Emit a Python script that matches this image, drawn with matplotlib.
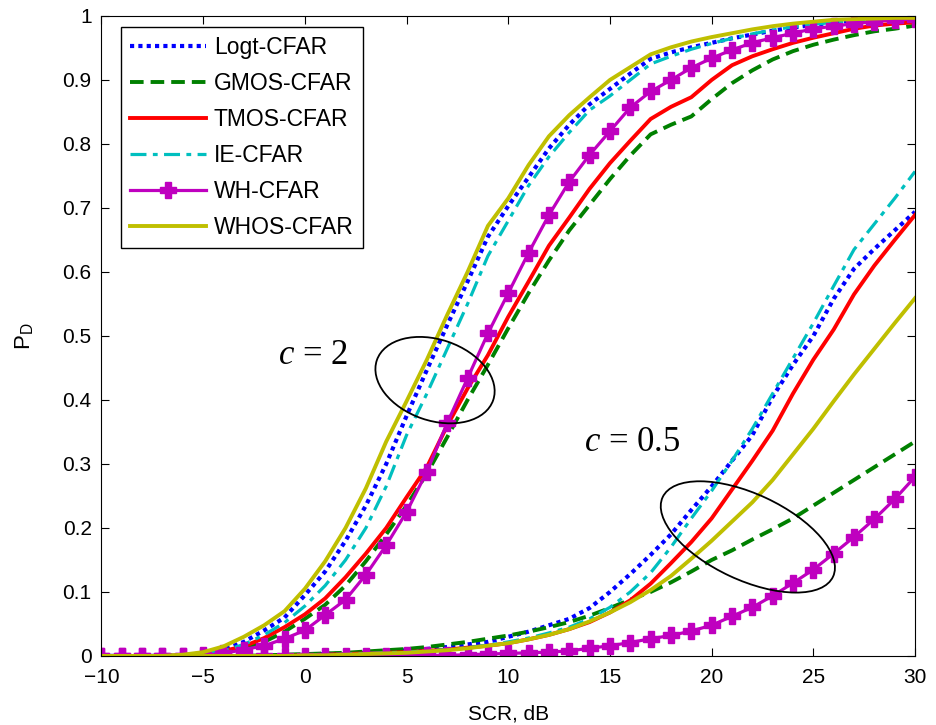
import numpy as np
import matplotlib
matplotlib.use('Agg')
import matplotlib.pyplot as plt
from matplotlib.patches import Ellipse
from matplotlib.transforms import ScaledTranslation

plt.rcParams['font.family'] = ['Liberation Sans', 'DejaVu Sans']
plt.rcParams['mathtext.fontset'] = 'custom'
plt.rcParams['mathtext.rm'] = 'Liberation Sans'
plt.rcParams['mathtext.it'] = 'Liberation Serif:italic'

scr = np.arange(-10, 31)

# c = 2
logt_2 = [0, 0, 0, 0, 0.001, 0.004, 0.01, 0.022, 0.04, 0.06, 0.095, 0.132, 0.18, 0.235, 0.3, 0.375,
          0.447, 0.517, 0.585, 0.655, 0.703, 0.748, 0.793, 0.83, 0.862, 0.886, 0.91, 0.933, 0.943,
          0.951, 0.958, 0.965, 0.971, 0.977, 0.982, 0.986, 0.99, 0.993, 0.995, 0.997, 0.998]
gmos_2 = [0, 0, 0, 0, 0.001, 0.002, 0.006, 0.012, 0.022, 0.038, 0.058, 0.08, 0.11, 0.148, 0.19, 0.235,
          0.285, 0.342, 0.4, 0.455, 0.512, 0.567, 0.618, 0.665, 0.705, 0.745, 0.782, 0.815, 0.83,
          0.843, 0.87, 0.895, 0.915, 0.932, 0.945, 0.955, 0.963, 0.97, 0.976, 0.98, 0.985]
tmos_2 = [0, 0, 0, 0, 0.001, 0.003, 0.008, 0.015, 0.028, 0.045, 0.065, 0.09, 0.123, 0.16, 0.2, 0.248,
          0.295, 0.36, 0.418, 0.47, 0.53, 0.585, 0.641, 0.685, 0.73, 0.77, 0.805, 0.839, 0.858,
          0.873, 0.9, 0.923, 0.937, 0.948, 0.958, 0.966, 0.973, 0.98, 0.985, 0.988, 0.99]
ie_2 = [0, 0, 0, 0, 0.001, 0.003, 0.008, 0.018, 0.033, 0.052, 0.078, 0.11, 0.15, 0.2, 0.265, 0.345,
        0.41, 0.48, 0.55, 0.625, 0.68, 0.735, 0.78, 0.818, 0.853, 0.875, 0.9, 0.925, 0.937,
        0.948, 0.957, 0.965, 0.972, 0.978, 0.983, 0.987, 0.99, 0.993, 0.995, 0.997, 0.998]
wh_2 = [0, 0, 0, 0, 0, 0.001, 0.004, 0.01, 0.016, 0.027, 0.04, 0.064, 0.088, 0.127, 0.173, 0.225,
        0.288, 0.364, 0.434, 0.504, 0.567, 0.63, 0.689, 0.741, 0.783, 0.82, 0.857, 0.882, 0.9,
        0.919, 0.934, 0.947, 0.958, 0.966, 0.973, 0.98, 0.984, 0.988, 0.991, 0.994, 0.995]
whos_2 = [0, 0, 0, 0, 0.002, 0.006, 0.015, 0.03, 0.048, 0.07, 0.105, 0.148, 0.2, 0.262, 0.335, 0.398,
          0.463, 0.533, 0.6, 0.672, 0.715, 0.767, 0.812, 0.845, 0.873, 0.9, 0.92, 0.94, 0.951,
          0.96, 0.967, 0.973, 0.979, 0.984, 0.988, 0.991, 0.994, 0.995, 0.996, 0.997, 0.997]

# c = 0.5
logt_05 = [0, 0, 0, 0, 0, 0, 0, 0, 0, 0.001, 0.002, 0.003, 0.004, 0.005, 0.007, 0.009, 0.011, 0.014,
           0.018, 0.022, 0.03, 0.038, 0.048, 0.058, 0.075, 0.1, 0.128, 0.158, 0.19, 0.228, 0.265,
           0.305, 0.345, 0.405, 0.455, 0.5, 0.558, 0.605, 0.636, 0.665, 0.694]
gmos_05 = [0, 0, 0, 0, 0, 0, 0, 0, 0.001, 0.002, 0.003, 0.004, 0.005, 0.007, 0.009, 0.011, 0.014, 0.018,
           0.022, 0.027, 0.032, 0.038, 0.045, 0.053, 0.063, 0.075, 0.088, 0.1, 0.115, 0.132, 0.15,
           0.165, 0.182, 0.198, 0.215, 0.235, 0.255, 0.275, 0.295, 0.315, 0.335]
tmos_05 = [0, 0, 0, 0, 0, 0, 0, 0, 0, 0, 0.001, 0.002, 0.003, 0.004, 0.005, 0.006, 0.008, 0.01,
           0.013, 0.016, 0.02, 0.026, 0.033, 0.042, 0.053, 0.068, 0.087, 0.113, 0.145, 0.178, 0.215,
           0.26, 0.305, 0.352, 0.41, 0.463, 0.51, 0.565, 0.61, 0.65, 0.689]
ie_05 = [0, 0, 0, 0, 0, 0, 0, 0, 0, 0, 0.001, 0.002, 0.003, 0.004, 0.005, 0.006, 0.008, 0.01,
         0.013, 0.017, 0.022, 0.028, 0.036, 0.045, 0.058, 0.076, 0.1, 0.13, 0.17, 0.215, 0.258,
         0.305, 0.355, 0.41, 0.465, 0.52, 0.578, 0.635, 0.675, 0.715, 0.757]
wh_05 = [0, 0, 0, 0, 0, 0, 0, 0, 0, 0, 0, 0, 0, 0, 0, 0.001, 0.001, 0.001, 0.002, 0.003, 0.004,
         0.005, 0.006, 0.008, 0.012, 0.016, 0.021, 0.027, 0.032, 0.039, 0.048, 0.062, 0.076,
         0.094, 0.114, 0.135, 0.16, 0.186, 0.214, 0.245, 0.28]
whos_05 = [0, 0, 0, 0, 0, 0, 0, 0, 0, 0, 0.001, 0.001, 0.002, 0.003, 0.004, 0.005, 0.007, 0.009,
           0.012, 0.016, 0.02, 0.026, 0.033, 0.042, 0.054, 0.068, 0.084, 0.103, 0.125, 0.152, 0.18,
           0.21, 0.24, 0.275, 0.315, 0.355, 0.398, 0.44, 0.48, 0.52, 0.559]

names = ['Logt-CFAR', 'GMOS-CFAR', 'TMOS-CFAR', 'IE-CFAR', 'WH-CFAR', 'WHOS-CFAR']
curves_2 = [logt_2, gmos_2, tmos_2, ie_2, wh_2, whos_2]
curves_05 = [logt_05, gmos_05, tmos_05, ie_05, wh_05, whos_05]

styles = [
    dict(color='#0000ff', lw=3, ls=(0, (1, 1))),
    dict(color='#008000', lw=2.8, ls=(0, (3.5, 1.8))),
    dict(color='#ff0000', lw=2.8, ls='-'),
    dict(color='#00bfbf', lw=2.3, ls=(0, (5, 2, 1.5, 2))),
    dict(color='#bf00bf', lw=2.3, ls='-', marker='P', ms=11),
    dict(color='#bfbf00', lw=2.8, ls='-'),
]

fig = plt.figure(figsize=(9.36, 7.25), dpi=100)
ax = fig.add_axes([0.1084, 0.0952, 0.8692, 0.8828])

for name, y2, y05, st in zip(names, curves_2, curves_05, styles):
    ax.plot(scr, y2, label=name, **st)
    ax.plot(scr, y05, **st)

ax.set_xlim(-10, 30)
ax.set_ylim(0, 1)
ax.set_xticks(np.arange(-10, 31, 5))
ax.set_yticks(np.arange(0, 1.01, 0.1))
ax.set_yticklabels(['0', '0.1', '0.2', '0.3', '0.4', '0.5', '0.6', '0.7', '0.8', '0.9', '1'])
ax.tick_params(direction='in', length=6, top=True, right=True, labelsize=15)
ax.tick_params(axis='x', pad=9)
ax.tick_params(axis='y', pad=7)
ax.set_xlabel('SCR, dB', fontsize=15, labelpad=12)
ax.set_ylabel(r'P$_\mathrm{D}$', fontsize=16, labelpad=20)

leg = ax.legend(loc='upper left', bbox_to_anchor=(0.0236, 0.983), borderaxespad=0, fontsize=16.5,
                fancybox=False, edgecolor='black', handlelength=3.3, labelspacing=0.56,
                borderpad=0.42, handletextpad=0.35, framealpha=1)
leg.get_frame().set_linewidth(1.0)

# group ellipses (sizes in inches at 100 dpi)
for cx, cy, w, h, ang in [(6.4, 0.431, 1.23, 0.81, -19), (21.78, 0.186, 1.88, 0.86, -25)]:
    tr = fig.dpi_scale_trans + ScaledTranslation(cx, cy, ax.transData)
    ax.add_patch(Ellipse((0, 0), w, h, angle=ang, transform=tr, fill=False,
                         edgecolor='black', lw=1.3, zorder=5))

ax.text(-1.3, 0.47, r'$c$ = 2', fontsize=25, family='Liberation Serif', va='center')
ax.text(13.7, 0.333, r'$c$ = 0.5', fontsize=25, family='Liberation Serif', va='center')

fig.savefig('out.png', dpi=100)
